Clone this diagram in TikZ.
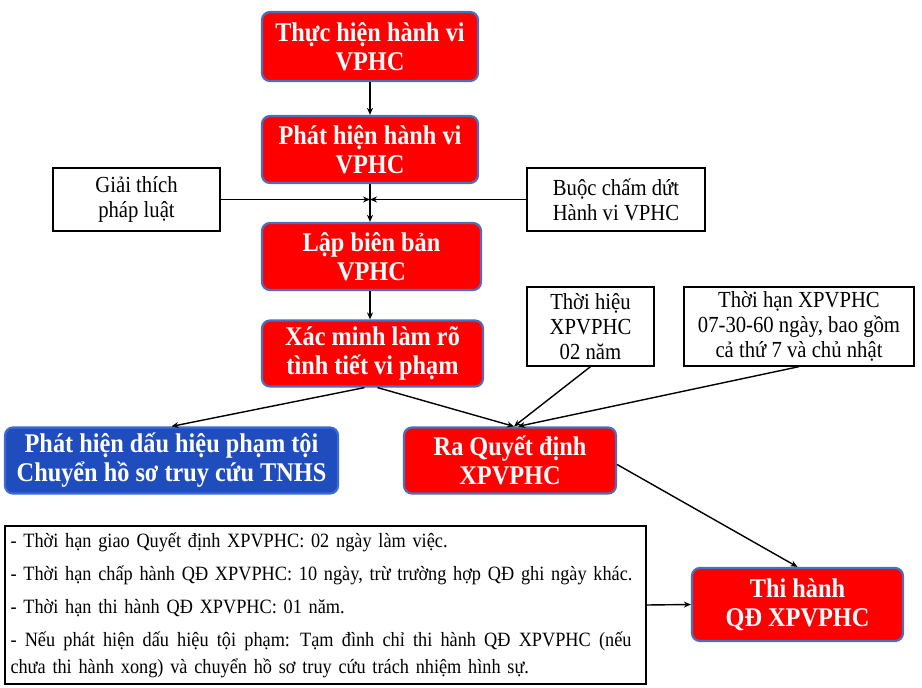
\documentclass[tikz,border=0pt]{standalone}
\usepackage{fontspec}
\setmainfont{Liberation Serif}[FakeStretch=0.9]
\usetikzlibrary{arrows.meta}
\definecolor{boxred}{HTML}{FF0000}
\definecolor{edgeblue}{HTML}{4A6FC0}
\definecolor{fillblue}{HTML}{1F4DBD}
\definecolor{edgeblue2}{HTML}{3B6AD6}
\tikzset{
  redbox/.style={draw=edgeblue, line width=2.2pt, fill=boxred, rounded corners=8pt,
    text=white, font=\bfseries\fontsize{27}{29}\selectfont, align=center, inner sep=0pt},
  bluebox/.style={draw=edgeblue2, line width=2.2pt, fill=fillblue, rounded corners=8pt,
    text=white, font=\bfseries\fontsize{27}{29}\selectfont, align=center, inner sep=0pt},
  whitebox/.style={draw=black, line width=1.3pt, fill=white,
    font=\fontsize{23}{25}\selectfont, align=center, inner sep=0pt},
  conn/.style={draw=black, line width=1.4pt, -{Stealth[length=7pt,width=6pt]}},
}
\begin{document}
\begin{tikzpicture}[x=1pt,y=-1pt]
\useasboundingbox (0,0) rectangle (922,688);
\node[redbox, minimum width=216pt, minimum height=69pt] (b1) at (370,46.5) {Thực hiện hành vi\\VPHC};
\node[redbox, minimum width=216pt, minimum height=67pt] (b2) at (370,149.5) {Phát hiện hành vi\\VPHC};
\node[whitebox, minimum width=167pt, minimum height=63pt] (gt) at (136.5,199.5) {Giải thích\\pháp luật};
\node[whitebox, minimum width=178pt, minimum height=63pt] (bc) at (616,199.5) {Buộc chấm dứt\\Hành vi VPHC};
\node[redbox, minimum width=219pt, minimum height=67pt] (b3) at (371.5,256.5) {Lập biên bản\\VPHC};
\node[redbox, minimum width=221pt, minimum height=66pt] (b4) at (372.5,353.5) {Xác minh làm rõ\\tình tiết vi phạm};
\node[bluebox, minimum width=333pt, minimum height=66pt] (b5) at (171.5,460.5) {Phát hiện dấu hiệu phạm tội\\Chuyển hồ sơ truy cứu TNHS};
\node[redbox, minimum width=212pt, minimum height=66pt] (b6) at (510,460.5) {Ra Quyết định\\XPVPHC};
\node[whitebox, minimum width=127pt, minimum height=79pt] (th) at (590.5,326.5) {Thời hiệu\\XPVPHC\\02 năm};
\node[whitebox, minimum width=230pt, minimum height=79pt] (tg) at (799,326.5) {Thời hạn XPVPHC\\07-30-60 ngày, bao gồm\\cả thứ 7 và chủ nhật};
\node[redbox, minimum width=211pt, minimum height=73pt] (b7) at (797.5,604.5) {Thi hành\\QĐ XPVPHC};
\node[whitebox, minimum width=641pt, minimum height=158pt, align=left, text width=630pt,
  font=\fontsize{20.3}{33}\selectfont] (nt) at (325.5,605) {%
- Thời hạn giao Quyết định XPVPHC: 02 ngày làm việc.\\
- Thời hạn chấp hành QĐ XPVPHC: 10 ngày, trừ trường hợp QĐ ghi ngày khác.\\
- Thời hạn thi hành QĐ XPVPHC: 01 năm.\\
\leavevmode\hbox to 621pt{\spaceskip=0.25em plus 1em\relax - Nếu phát hiện dấu hiệu tội phạm: Tạm đình chỉ thi hành QĐ XPVPHC (nếu}\\[-6pt]
chưa thi hành xong) và chuyển hồ sơ truy cứu trách nhiệm hình sự.};
\coordinate (j) at (b2.south |- gt.east);
\draw[conn] (b1) -- (b2);
\draw[conn] (b2) -- (b3.north -| b2.south);
\draw[conn] (gt.east) -- (j);
\draw[conn] (bc.west) -- (j);
\draw[conn] (b3.south -| b2.south) -- (b4.north -| b2.south);
\draw[conn] ([xshift=-8pt]b4.south) -- (b5.north);
\draw[conn] ([xshift=5pt]b4.south) -- ([xshift=4pt]b6.north);
\draw[conn] (th.south) -- ([xshift=4pt]b6.north);
\draw[conn] (tg.south) -- ([xshift=8pt]b6.north);
\draw[conn] ([yshift=-4pt]b6.east) -- (b7.north);
\draw[conn] (nt.east) -- (b7.west);
\end{tikzpicture}
\end{document}
